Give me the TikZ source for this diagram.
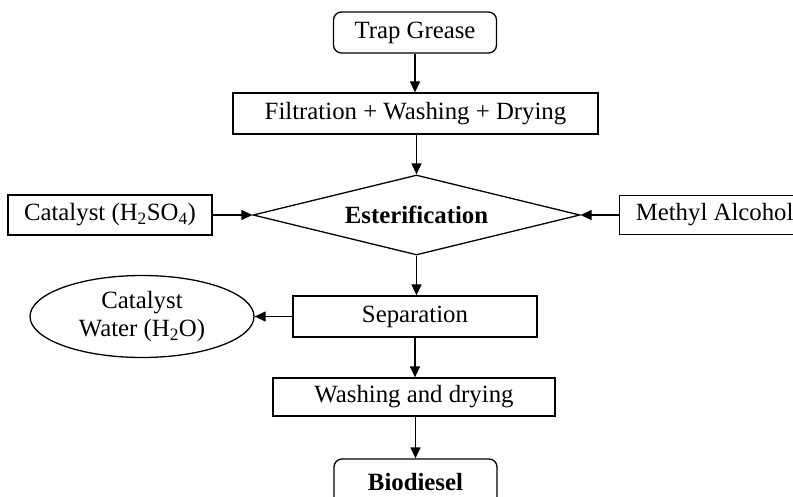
\documentclass[tikz,border=0pt]{standalone}
\usepackage{fontspec}
\setmainfont{Liberation Serif}
\usetikzlibrary{arrows.meta,shapes.geometric}
\begin{document}
\begin{tikzpicture}[x=1pt,y=-1pt,
  font=\fontsize{24.8}{28}\selectfont,
  line width=1.3pt,
  box/.style={draw, rectangle, inner sep=0pt},
  rbox/.style={box, rounded corners=8pt},
  arr/.style={-{Triangle[length=11pt,width=10pt]}}]
\clip (0,0) rectangle (793,496);
\node[rbox, minimum width=163pt, minimum height=41pt] (trap) at (415,32.5) {Trap Grease};
\node[box, minimum width=365pt, minimum height=41pt] (filt) at (415.5,113.5) {Filtration + Washing + Drying};
\node[draw, diamond, aspect=4, inner sep=0pt, minimum width=327pt, minimum height=80pt] (ester) at (416.5,215) {\textbf{Esterification}};
\node[box, minimum width=204pt, minimum height=40pt] (cat) at (110,215) {Catalyst (H\textsubscript{2}SO\textsubscript{4})};
\node[box, minimum width=182pt, minimum height=39pt, anchor=west] (meth) at (619,215) {\hspace*{8pt}Methyl Alcohol\hfill};
\node[box, minimum width=244pt, minimum height=41pt] (sep) at (415,316.5) {Separation};
\node[draw, ellipse, inner sep=0pt, minimum width=224pt, minimum height=82pt, align=center] (water) at (142,316.5) {Catalyst\\Water (H\textsubscript{2}O)};
\node[box, minimum width=282pt, minimum height=38pt] (wash) at (414,397) {Washing and drying};
\node[rbox, minimum width=163pt, minimum height=46pt] (bio) at (415.5,482) {\textbf{Biodiesel}};
\draw[arr] (trap.south) -- (trap.south |- filt.north);
\draw[arr] (filt.south -| ester.north) -- (ester.north);
\draw[arr] (cat.east) -- (ester.west);
\draw[arr] (meth.west) -- (ester.east);
\draw[arr] (ester.south) -- (ester.south |- sep.north);
\draw[arr] (sep.west) -- (water.east);
\draw[arr] (sep.south) -- (sep.south |- wash.north);
\draw[arr] (wash.south -| bio.north) -- (bio.north);
\end{tikzpicture}
\end{document}
